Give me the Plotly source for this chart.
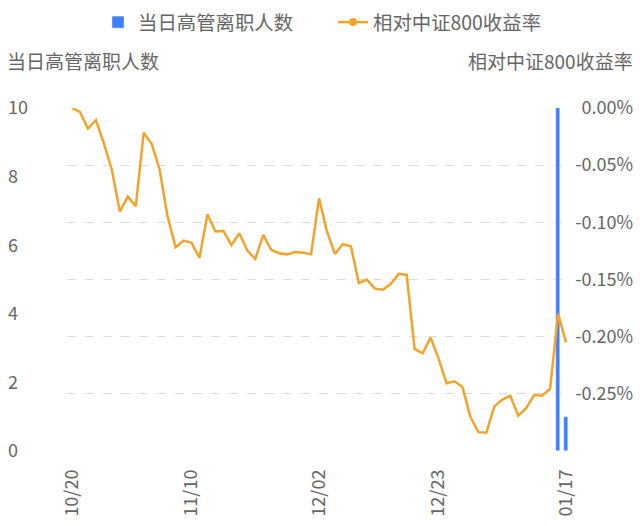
import plotly.graph_objects as go

dates = [
    "10/20", "10/21", "10/24", "10/25", "10/26", "10/27", "10/28", "10/31",
    "11/01", "11/02", "11/03", "11/04", "11/07", "11/08", "11/09", "11/10",
    "11/11", "11/14", "11/15", "11/16", "11/17", "11/18", "11/21", "11/22",
    "11/23", "11/24", "11/25", "11/28", "11/29", "11/30", "12/01", "12/02",
    "12/05", "12/06", "12/07", "12/08", "12/09", "12/12", "12/13", "12/14",
    "12/15", "12/16", "12/19", "12/20", "12/21", "12/22", "12/23", "12/26",
    "12/27", "12/28", "12/29", "12/30", "01/03", "01/04", "01/05", "01/06",
    "01/09", "01/10", "01/11", "01/12", "01/13", "01/16", "01/17",
]

departures = [None] * 61 + [10, 1]

relative_return = [
    0.000, -0.0035, -0.018, -0.0105, -0.031, -0.054, -0.0906, -0.0775,
    -0.086, -0.0216, -0.0315, -0.054, -0.095, -0.1218, -0.116, -0.118,
    -0.131, -0.093, -0.108, -0.1075, -0.120, -0.1095, -0.1247, -0.132,
    -0.111, -0.124, -0.127, -0.128, -0.126, -0.1265, -0.128, -0.079,
    -0.108, -0.1276, -0.119, -0.121, -0.153, -0.150, -0.158, -0.159,
    -0.154, -0.145, -0.146, -0.2107, -0.2145, -0.2008, -0.219, -0.2407,
    -0.239, -0.244, -0.270, -0.2835, -0.284, -0.261, -0.255, -0.2517,
    -0.269, -0.2625, -0.251, -0.2517, -0.2456, -0.180, -0.205,
]

x_tick_labels = ["10/20", "11/10", "12/02", "12/23", "01/17"]
left_ticks = [0, 2, 4, 6, 8, 10]
right_ticks = [0.0, -0.05, -0.10, -0.15, -0.20, -0.25]

bar_name = "当日高管离职人数"
line_name = "相对中证800收益率"

BLUE = "#3E7EFF"
ORANGE = "#F2A32C"
GRAY = "#666666"
FONT = "Noto Sans CJK SC"

fig = go.Figure()
fig.add_trace(go.Bar(
    x=dates, y=departures, name=bar_name, marker_color=BLUE,
    width=0.45, yaxis="y",
))
fig.add_trace(go.Scatter(
    x=dates, y=relative_return, mode="lines+markers", name=line_name,
    line=dict(color=ORANGE, width=2.5),
    marker=dict(color=ORANGE, size=8),
    selectedpoints=[], unselected=dict(marker=dict(opacity=0)),
    yaxis="y2",
))

fig.update_layout(
    width=640, height=526,
    margin=dict(l=4, r=4, t=108, b=75, autoexpand=False),
    paper_bgcolor="white", plot_bgcolor="white",
    font=dict(family=FONT, size=18, color=GRAY),
    bargap=0,
    legend=dict(
        orientation="h", x=98 / 640, xanchor="left", xref="container",
        y=1 - 3 / 526, yanchor="top", yref="container",
        font=dict(size=19.4, color=GRAY),
        itemwidth=30, entrywidth=190, entrywidthmode="pixels",
        traceorder="normal",
    ),
    xaxis=dict(
        type="category", categoryorder="array", categoryarray=dates,
        domain=[(67 - 4) / 632, (570 - 4) / 632],
        range=[-0.63, 62.5], automargin=False,
        tickmode="array", tickvals=x_tick_labels, ticktext=x_tick_labels,
        tickangle=-90, showgrid=False, showline=False, zeroline=False,
        ticks="", ticklabelstandoff=14,
        tickfont=dict(size=18, color=GRAY),
    ),
    yaxis=dict(
        range=[0, 10], tickvals=left_ticks, anchor="free", position=0,
        side="left", ticklabelposition="inside", ticklabeloverflow="allow",
        showgrid=False, automargin=False,
        zeroline=False, showline=False, ticks="",
        tickfont=dict(size=18, color=GRAY),
    ),
    yaxis2=dict(
        range=[-0.30, 0.0], tickvals=right_ticks,
        ticktext=[f"{v:.2f}%" for v in right_ticks],
        overlaying="y", side="right", anchor="free", position=1,
        ticklabelposition="inside", ticklabeloverflow="allow",
        automargin=False, showgrid=True, gridcolor="#dddddd",
        griddash="dash", gridwidth=1, zeroline=False, showline=False,
        ticks="", tickfont=dict(size=18, color=GRAY),
    ),
    annotations=[
        dict(text=bar_name, xref="paper", yref="paper", x=0, y=1,
             xanchor="left", yanchor="bottom", yshift=32, xshift=1,
             showarrow=False, font=dict(size=19, color=GRAY)),
        dict(text=line_name, xref="paper", yref="paper", x=1, y=1,
             xanchor="right", yanchor="bottom", yshift=32, xshift=-1,
             showarrow=False, font=dict(size=19, color=GRAY)),
    ],
)

fig.write_html(
    "out.html",
    config={"displayModeBar": False},
    post_script="document.body.style.margin='0';document.body.style.overflow='hidden';",
)
